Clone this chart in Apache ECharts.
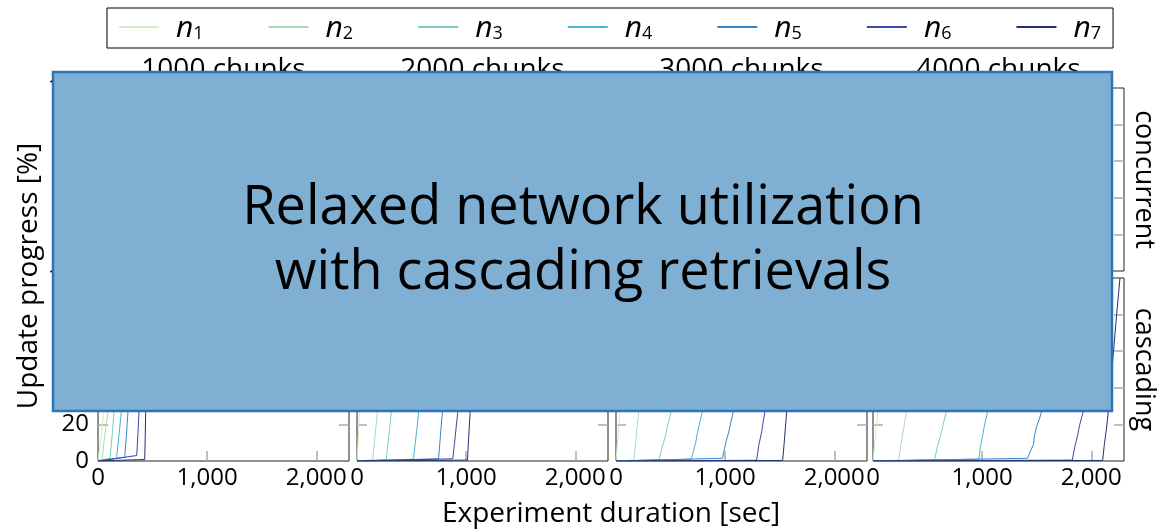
<!DOCTYPE html>
<html><head><meta charset="utf-8">
<script src="https://cdn.jsdelivr.net/npm/echarts@6/dist/echarts.min.js"></script>
<style>html,body{margin:0;padding:0;background:#fff}#c{width:1160px;height:529px}</style>
</head><body><div id="c"></div>
<script>
const nodes = ['n1','n2','n3','n4','n5','n6','n7'];
const nodeColors = ['#d2edc1','#a6dbb6','#7accc4','#49b4cf','#3589c7','#3a48a8','#23316e'];
const chunkLabels = ['1000 chunks','2000 chunks','3000 chunks','4000 chunks'];
const modeLabels = ['concurrent','cascading'];
const xTickValues = [0, 1000, 2000];
const yTickValues = [0, 20, 40, 60, 80, 100];
const overlayText = 'Relaxed network utilization\nwith cascading retrievals';

// concurrent row (hidden behind the overlay in the reference; estimated)
const conc1000 = [
  [[0,0],[60,12],[150,38],[240,70],[300,100]],
  [[0,0],[70,11],[170,36],[270,68],[335,100]],
  [[0,0],[80,10],[190,35],[300,67],[365,100]],
  [[0,0],[90,10],[210,34],[320,66],[390,100]],
  [[0,0],[100,9],[230,33],[345,65],[420,100]],
  [[0,0],[110,9],[250,32],[370,64],[445,100]],
  [[0,0],[120,8],[270,31],[395,63],[470,100]]
];
const conc2000 = [
  [[0,0],[120,12],[300,38],[480,70],[620,100]],
  [[0,0],[135,11],[330,37],[530,69],[680,100]],
  [[0,0],[150,10],[360,36],[580,68],[740,100]],
  [[0,0],[160,10],[385,35],[615,67],[790,100]],
  [[0,0],[170,9],[410,34],[655,66],[840,100]],
  [[0,0],[180,9],[435,33],[695,65],[890,100]],
  [[0,0],[190,8],[460,32],[735,64],[940,100]]
];
const conc3000 = [
  [[0,0],[180,12],[450,38],[700,70],[900,100]],
  [[0,0],[200,11],[495,37],[770,69],[990,100]],
  [[0,0],[215,10],[535,36],[835,68],[1070,100]],
  [[0,0],[230,10],[575,35],[895,67],[1150,100]],
  [[0,0],[245,9],[610,34],[950,66],[1220,100]],
  [[0,0],[260,9],[645,33],[1005,65],[1290,100]],
  [[0,0],[275,8],[680,32],[1060,64],[1360,100]]
];
const conc4000 = [
  [[0,0],[240,12],[600,38],[940,70],[1200,100]],
  [[0,0],[265,11],[660,37],[1030,69],[1320,100]],
  [[0,0],[285,10],[715,36],[1115,68],[1430,100]],
  [[0,0],[305,10],[765,35],[1190,67],[1530,100]],
  [[0,0],[325,9],[815,34],[1270,66],[1630,100]],
  [[0,0],[345,9],[860,33],[1340,65],[1720,100]],
  [[0,0],[360,8],[905,32],[1410,64],[1810,100]]
];

// cascading row
const casc1000 = [
  [[0,0],[30,14],[55,27],[120,62],[195,100]],
  [[0,0],[37,1],[62,14],[92,27],[150,58],[230,100]],
  [[0,0],[110,1.5],[130,14],[147,27],[190,55],[260,100]],
  [[0,0],[170,1.5],[192,14],[214,27],[255,55],[310,100]],
  [[0,0],[245,2],[260,14],[275,27],[305,55],[345,100]],
  [[0,0],[355,3],[365,14],[376,27],[400,60],[425,100]],
  [[0,0],[150,0.3],[428,0.8],[433,14],[437,27],[450,65],[462,100]]
];
const casc2000 = [
  [[0,0],[8,8],[16,18],[24,27],[45,55],[70,82],[88,100]],
  [[0,0],[60,0.3],[143,0.6],[158,9],[172,18],[188,27],[230,52],[270,76],[310,100]],
  [[0,0],[268,0.8],[282,9],[300,18],[314,27],[360,55],[400,78],[440,100]],
  [[0,0],[518,1],[532,9],[550,18],[564,27],[610,52],[650,76],[690,100]],
  [[0,0],[747,1.2],[758,9],[770,18],[783,27],[820,60],[850,80],[880,100]],
  [[0,0],[878,1.2],[892,9],[908,18],[924,27],[970,57],[1010,82],[1050,100]],
  [[0,0],[1012,0.5],[1020,9],[1028,18],[1037,27],[1060,55],[1085,80],[1105,100]]
];
const casc3000 = [
  [[0,0],[12,9],[25,18],[37,27],[70,55],[105,82],[130,100]],
  [[0,0],[163,0.5],[178,9],[192,18],[209,27],[255,55],[300,80],[340,100]],
  [[0,0],[393,0.8],[420,7],[440,11],[455,14],[470,19],[490,23],[506,27],[580,50],[650,75],[720,100]],
  [[0,0],[690,1],[712,6],[730,10],[745,15],[760,19],[775,23],[791,27],[860,52],[930,76],[1000,100]],
  [[0,0],[976,1.5],[995,7],[1010,11],[1030,15],[1045,19],[1060,23],[1074,27],[1150,55],[1210,78],[1270,100]],
  [[0,0],[1288,0.4],[1310,9],[1335,16],[1350,22],[1365,27],[1420,55],[1470,80],[1510,100]],
  [[0,0],[1527,0.3],[1540,9],[1552,18],[1564,27],[1590,55],[1615,80],[1635,100]]
];
const casc4000 = [
  [[0,0],[15,9],[30,18],[46,27],[90,55],[130,80],[165,100]],
  [[0,0],[236,0.5],[255,9],[282,18],[306,27],[370,52],[430,76],[490,100]],
  [[0,0],[566,0.8],[590,8],[615,13],[640,19],[655,23],[673,27],[760,52],[840,76],[920,100]],
  [[0,0],[970,1],[985,8],[1005,14],[1020,19],[1035,23],[1049,27],[1120,55],[1190,80],[1250,100]],
  [[0,0],[1416,1.5],[1440,5],[1470,9],[1480,14],[1500,19],[1525,23],[1544,27],[1620,52],[1690,76],[1760,100]],
  [[0,0],[1826,0.5],[1850,8],[1875,14],[1895,20],[1927,27],[1990,52],[2040,75],[2090,100]],
  [[0,0],[2104,0.3],[2120,9],[2140,18],[2156,27],[2190,50],[2225,75],[2263,100]]
];

const rowsData = [[conc1000, conc2000, conc3000, conc4000], [casc1000, casc2000, casc3000, casc4000]];

const FONT = '"Open Sans", "Noto Sans", sans-serif';
const colLeft = [98, 357, 616, 873];
const rowTop = [88, 278];
const GW = 251, GH = 183;

const grids = [], xAxes = [], yAxes = [], series = [];
const tickStyle = {color: '#aaa', width: 1.5};
for (let r = 0; r < 2; r++) {
  for (let c = 0; c < 4; c++) {
    const gi = r * 4 + c;
    grids.push({left: colLeft[c], top: rowTop[r], width: GW, height: GH, show: true,
      borderColor: '#222', borderWidth: 1, backgroundColor: 'transparent'});
    xAxes.push({type: 'value', gridIndex: gi, min: 0, max: 2300, interval: 1000,
      axisLine: {show: false},
      axisTick: {show: true, inside: true, length: 10, lineStyle: tickStyle, customValues: [1000, 2000]},
      axisLabel: {show: r === 1, customValues: xTickValues, fontSize: 24, fontFamily: FONT, color: '#000', margin: 5,
        formatter: v => v.toLocaleString('en-US')},
      splitLine: {show: false}});
    yAxes.push({type: 'value', gridIndex: gi, min: 0, max: 100, interval: 20, position: 'left',
      axisLine: {show: false},
      axisTick: {show: true, inside: true, length: 10, lineStyle: tickStyle, customValues: [20, 40, 60, 80]},
      axisLabel: {show: c === 0, customValues: yTickValues, fontSize: 24, fontFamily: FONT, color: '#000', margin: 9},
      splitLine: {show: false}});
    yAxes.push({type: 'value', gridIndex: gi, min: 0, max: 100, interval: 20, position: 'right',
      axisLine: {show: false},
      axisTick: {show: true, inside: true, length: 10, lineStyle: tickStyle, customValues: [20, 40, 60, 80]},
      axisLabel: {show: false}, splitLine: {show: false}});
    const block = rowsData[r][c];
    block.forEach((pts, i) => {
      series.push({name: nodes[i], type: 'line', xAxisIndex: gi, yAxisIndex: gi * 2,
        data: pts, symbol: 'none', showSymbol: false, animation: false, silent: true,
        lineStyle: {width: 1, color: nodeColors[i]}, itemStyle: {color: nodeColors[i]}, z: 2 + i * 0.01});
    });
  }
}

const graphics = [];
chunkLabels.forEach((t, c) => {
  graphics.push({type: 'text', x: colLeft[c] + GW / 2, y: 70, z: 1,
    style: {text: t, fontSize: 28, fontFamily: FONT, fill: '#000', align: 'center', verticalAlign: 'middle'}});
});
modeLabels.forEach((t, r) => {
  graphics.push({type: 'text', x: 1144, y: rowTop[r] + GH / 2, rotation: -Math.PI / 2, z: 1,
    style: {text: t, fontSize: 27, fontFamily: FONT, fill: '#000', align: 'center', verticalAlign: 'middle'}});
});
graphics.push({type: 'text', x: 29, y: 276, rotation: Math.PI / 2, z: 1,
  style: {text: 'Update progress [%]', fontSize: 28, fontFamily: FONT, fill: '#000', align: 'center', verticalAlign: 'middle'}});
graphics.push({type: 'text', x: 611, y: 514, z: 1,
  style: {text: 'Experiment duration [sec]', fontSize: 28, fontFamily: FONT, fill: '#000', align: 'center', verticalAlign: 'middle'}});
graphics.push({type: 'rect', z: 100, shape: {x: 53, y: 72, width: 1059, height: 339},
  style: {fill: '#7fafd3', stroke: '#2e75b6', lineWidth: 2.5}});
graphics.push({type: 'text', x: 583, y: 241, z: 101,
  style: {text: overlayText, fontSize: 54, lineHeight: 65, fontFamily: FONT, fill: '#000', align: 'center', verticalAlign: 'middle'}});

const chart = echarts.init(document.getElementById('c'), null, {renderer: 'canvas'});
chart.setOption({
  animation: false,
  backgroundColor: '#fff',
  textStyle: {fontFamily: FONT},
  legend: {
    data: nodes, left: 107, top: 8, orient: 'horizontal',
    icon: 'rect', itemWidth: 40, itemHeight: 2, itemGap: 65,
    padding: [5, 12, 5, 12], borderColor: '#000', borderWidth: 1,
    formatter: name => '{n|n}{s|' + name.slice(1) + '}',
    textStyle: {color: '#000', rich: {
      n: {fontSize: 30, fontStyle: 'italic', fontFamily: FONT, lineHeight: 32, verticalAlign: 'bottom', padding: [0, 0, 0, 12]},
      s: {fontSize: 18, fontFamily: FONT, lineHeight: 25, verticalAlign: 'bottom'}
    }}
  },
  grid: grids, xAxis: xAxes, yAxis: yAxes, series: series,
  graphic: graphics
});
</script>
</body></html>
